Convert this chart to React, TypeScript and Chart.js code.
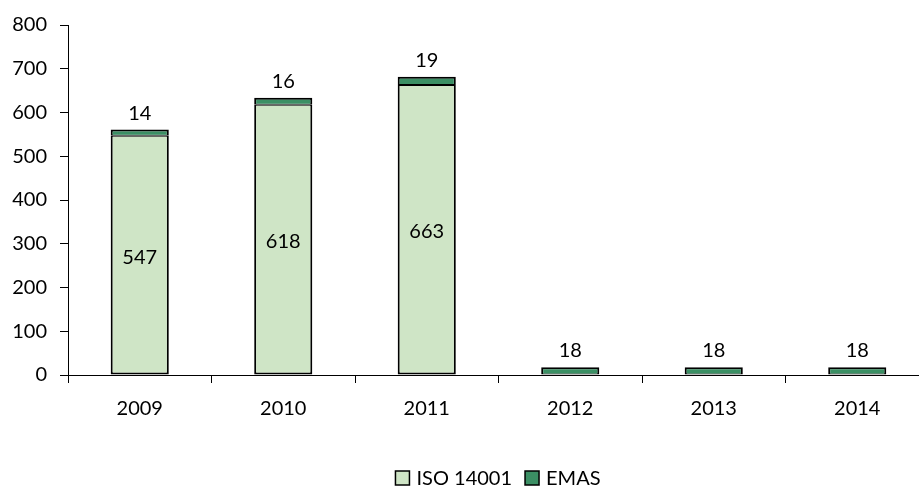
import React, { useEffect, useRef } from "react";
import { Chart, registerables } from "chart.js";
Chart.register(...registerables);

const years = ["2009", "2010", "2011", "2012", "2013", "2014"];
const isoValues: (number | null)[] = [547, 618, 663, null, null, null];
const emasValues: number[] = [14, 16, 19, 18, 18, 18];
const seriesNames = ["ISO 14001", "EMAS"];
const yMax = 800;
const yStep = 100;

const FONT = "Lato, 'Open Sans', sans-serif";
const FS = 20;
const ISO_COLOR = "#cfe5c6";
const EMAS_COLOR = "#3b8f64";

const labelPlugin = {
  id: "valueLabels",
  afterDatasetsDraw(chart: any) {
    const ctx = chart.ctx;
    ctx.save();
    ctx.font = `${FS}px ${FONT}`;
    ctx.fillStyle = "#000";
    ctx.textAlign = "center";
    chart.data.datasets.forEach((ds: any, di: number) => {
      const meta = chart.getDatasetMeta(di);
      meta.data.forEach((bar: any, i: number) => {
        const v = ds.data[i];
        if (v === null || v === undefined) return;
        if (di === 0) {
          ctx.textBaseline = "middle";
          ctx.fillText(String(v), bar.x, (bar.y + bar.base) / 2 + 2);
        } else {
          ctx.textBaseline = "alphabetic";
          ctx.fillText(String(v), bar.x, bar.y - 10);
        }
      });
    });
    ctx.restore();
  },
};

const legendPlugin = {
  id: "customLegend",
  afterDraw(chart: any) {
    const ctx = chart.ctx;
    ctx.save();
    ctx.font = `${FS}px ${FONT}`;
    const box = 14;
    const gapBox = 7;
    const gapItem = 13;
    const items = chart.data.datasets.map((ds: any) => ({
      label: ds.label,
      color: ds.backgroundColor,
      w: ctx.measureText(ds.label).width,
    }));
    const total =
      items.reduce((s: number, it: any) => s + box + gapBox + it.w, 0) +
      gapItem * (items.length - 1);
    let x = 498 - total / 2;
    const top = 471;
    items.forEach((it: any) => {
      ctx.fillStyle = it.color;
      ctx.fillRect(x, top, box, box);
      ctx.strokeStyle = "#000";
      ctx.lineWidth = 1.5;
      ctx.strokeRect(x, top, box, box);
      ctx.fillStyle = "#000";
      ctx.textAlign = "left";
      ctx.textBaseline = "middle";
      ctx.fillText(it.label, x + box + gapBox, top + box / 2 + 1);
      x += box + gapBox + it.w + gapItem;
    });
    ctx.restore();
  },
};

export default function App() {
  const ref = useRef<HTMLCanvasElement>(null);
  useEffect(() => {
    document.documentElement.style.overflow = "hidden";
    document.body.style.overflow = "hidden";
    const chart = new Chart(ref.current as HTMLCanvasElement, {
      type: "bar",
      data: {
        labels: years,
        datasets: [
          {
            label: seriesNames[0],
            data: isoValues,
            backgroundColor: ISO_COLOR,
            borderColor: "#000",
            borderWidth: { top: 1, left: 2, right: 2, bottom: 2 },
            borderSkipped: false,
            barPercentage: 0.405,
            categoryPercentage: 1,
          },
          {
            label: seriesNames[1],
            data: emasValues,
            backgroundColor: EMAS_COLOR,
            borderColor: "#000",
            borderWidth: { top: 2, left: 2, right: 2, bottom: 1 },
            borderSkipped: false,
            barPercentage: 0.405,
            categoryPercentage: 1,
          },
        ],
      },
      options: {
        animation: false,
        responsive: true,
        maintainAspectRatio: false,
        layout: { padding: { top: 24, left: 0, right: 3, bottom: 0 } },
        plugins: {
          legend: { display: false },
          tooltip: { enabled: false },
        },
        scales: {
          x: {
            stacked: true,
            grid: {
              display: true,
              drawOnChartArea: false,
              drawTicks: true,
              tickLength: 8,
              color: "#000",
              offset: true,
            },
            border: { display: true, color: "#000", width: 1 },
            ticks: {
              color: "#000",
              font: { family: FONT, size: FS },
              padding: 14,
            },
            afterFit: (scale: any) => {
              scale.height = 113;
            },
          },
          y: {
            stacked: true,
            min: 0,
            max: yMax,
            grid: {
              display: true,
              drawOnChartArea: false,
              drawTicks: true,
              tickLength: 8,
              color: "#000",
            },
            border: { display: true, color: "#000", width: 1 },
            ticks: {
              stepSize: yStep,
              color: "#000",
              font: { family: FONT, size: FS },
              padding: 13,
            },
            afterFit: (scale: any) => {
              scale.width = 68;
            },
          },
        },
      },
      plugins: [labelPlugin, legendPlugin],
    });
    return () => chart.destroy();
  }, []);
  return (
    <div style={{ position: "absolute", left: 0, top: 0, width: 932, height: 488 }}>
      <canvas ref={ref} />
    </div>
  );
}
